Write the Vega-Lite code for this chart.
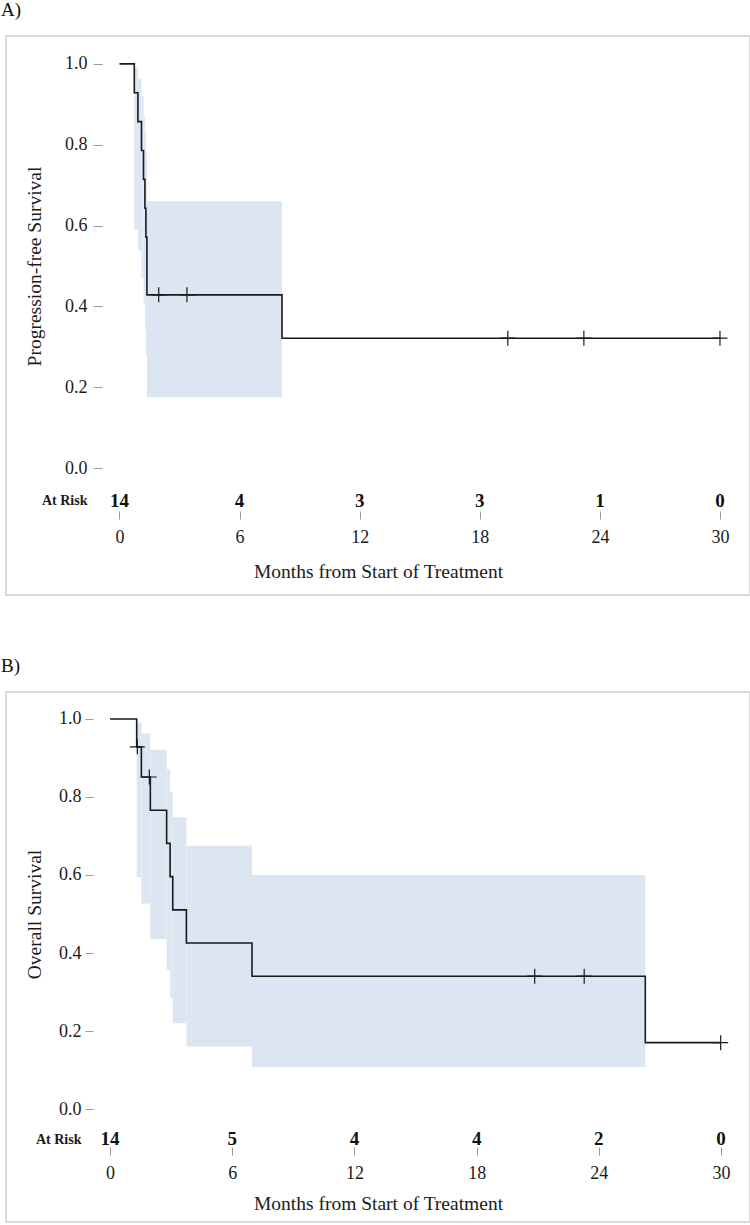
{
  "$schema": "https://vega.github.io/schema/vega-lite/v6.json",
  "padding": {"left": 0, "top": 0, "right": 0, "bottom": 0},
  "background": "white",
  "bounds": "flush",
  "spacing": 97,
  "config": {
    "font": "Liberation Serif",
    "view": {"stroke": "#d9d9d9", "strokeWidth": 2},
    "axis": {
      "domain": false, "grid": false, "tickColor": "#9a9a9a", "tickWidth": 1,
      "labelColor": "#1a1a1a", "titleColor": "#1a1a1a",
      "labelFont": "Liberation Serif", "titleFont": "Liberation Serif",
      "titleFontWeight": "normal", "labelFontSize": 18, "titleFontSize": 19.5
    },
    "title": {"font": "Liberation Serif", "fontSize": 19, "fontWeight": "normal", "anchor": "start", "frame": "group", "color": "#111111"}
  },
  "datasets": {
    "pfs_curve": [
      {"t": 0, "s": 1.0}, {"t": 0.74, "s": 0.9286}, {"t": 0.92, "s": 0.8571}, {"t": 1.1, "s": 0.7857},
      {"t": 1.2, "s": 0.7143}, {"t": 1.27, "s": 0.6429}, {"t": 1.32, "s": 0.5714}, {"t": 1.37, "s": 0.4286},
      {"t": 8.12, "s": 0.3214}, {"t": 30.0, "s": 0.3214}
    ],
    "pfs_band": [
      {"t0": 0.74, "t1": 0.92, "lo": 0.59, "hi": 0.99},
      {"t0": 0.92, "t1": 1.1, "lo": 0.538, "hi": 0.962},
      {"t0": 1.1, "t1": 1.2, "lo": 0.47, "hi": 0.92},
      {"t0": 1.2, "t1": 1.27, "lo": 0.404, "hi": 0.87},
      {"t0": 1.27, "t1": 1.32, "lo": 0.342, "hi": 0.832},
      {"t0": 1.32, "t1": 1.37, "lo": 0.28, "hi": 0.78},
      {"t0": 1.37, "t1": 8.12, "lo": 0.175, "hi": 0.66}
    ],
    "pfs_censor": [
      {"t": 1.96, "s": 0.4286}, {"t": 3.37, "s": 0.4286}, {"t": 19.4, "s": 0.3214},
      {"t": 23.2, "s": 0.3214}, {"t": 30.0, "s": 0.3214}
    ],
    "pfs_risk": [
      {"t": 0, "n": 14}, {"t": 6, "n": 4}, {"t": 12, "n": 3}, {"t": 18, "n": 3}, {"t": 24, "n": 1}, {"t": 30, "n": 0}
    ],
    "os_curve": [
      {"t": 0, "s": 1.0}, {"t": 1.31, "s": 0.9286}, {"t": 1.54, "s": 0.8512}, {"t": 1.98, "s": 0.7661},
      {"t": 2.78, "s": 0.681}, {"t": 2.95, "s": 0.5958}, {"t": 3.08, "s": 0.5107}, {"t": 3.75, "s": 0.4256},
      {"t": 6.97, "s": 0.3405}, {"t": 26.28, "s": 0.1702}, {"t": 29.98, "s": 0.1702}
    ],
    "os_band": [
      {"t0": 1.31, "t1": 1.54, "lo": 0.594, "hi": 0.991},
      {"t0": 1.54, "t1": 1.98, "lo": 0.527, "hi": 0.963},
      {"t0": 1.98, "t1": 2.78, "lo": 0.436, "hi": 0.921},
      {"t0": 2.78, "t1": 2.95, "lo": 0.356, "hi": 0.871},
      {"t0": 2.95, "t1": 3.08, "lo": 0.284, "hi": 0.812},
      {"t0": 3.08, "t1": 3.75, "lo": 0.22, "hi": 0.748},
      {"t0": 3.75, "t1": 6.97, "lo": 0.16, "hi": 0.675},
      {"t0": 6.97, "t1": 26.28, "lo": 0.108, "hi": 0.6}
    ],
    "os_censor": [
      {"t": 1.34, "s": 0.9286}, {"t": 1.93, "s": 0.8512}, {"t": 20.85, "s": 0.3405},
      {"t": 23.28, "s": 0.3405}, {"t": 29.98, "s": 0.1702}
    ],
    "os_risk": [
      {"t": 0, "n": 14}, {"t": 6, "n": 5}, {"t": 12, "n": 4}, {"t": 18, "n": 4}, {"t": 24, "n": 2}, {"t": 30, "n": 0}
    ]
  },
  "vconcat": [
    {
      "width": 744,
      "height": 559,
      "title": {"text": "A)", "dx": -5, "offset": 16},
      "layer": [
        {
          "data": {"name": "pfs_band"},
          "mark": {"type": "rect", "color": "#dce6f2"},
          "encoding": {
            "x": {"field": "t0", "type": "quantitative",
              "scale": {"domain": [-5.67, 31.5], "nice": false, "zero": false},
              "axis": {"values": [0, 6, 12, 18, 24, 30], "offset": -84, "tickSize": 8,
                "labelBaseline": "middle", "labelPadding": 18,
                "title": "Months from Start of Treatment", "titleY": 60, "titleBaseline": "middle"}},
            "x2": {"field": "t1"},
            "y": {"field": "lo", "type": "quantitative",
              "scale": {"domain": [-0.314, 1.069], "nice": false, "zero": false},
              "axis": {"values": [-0.0814, 0, 0.2, 0.4, 0.6, 0.8, 1.0],
                "labelExpr": "datum.value < -0.01 ? 'At Risk' : format(datum.value, '.1f')",
                "offset": -96, "tickSize": 9, "labelPadding": 6,
                "tickOpacity": {"condition": {"test": "datum.value < -0.01", "value": 0}, "value": 1},
                "labelFontSize": {"condition": {"test": "datum.value < -0.01", "value": 14}, "value": 18},
                "labelFontWeight": {"condition": {"test": "datum.value < -0.01", "value": "bold"}, "value": "normal"},
                "title": "Progression-free Survival", "titleX": -68, "titleY": 230, "titleBaseline": "middle"}},
            "y2": {"field": "hi"}
          }
        },
        {
          "mark": {"type": "rect", "fill": null, "filled": false, "stroke": "#8f8f8f", "strokeWidth": 1.5},
          "encoding": {
            "x": {"datum": -0.874, "type": "quantitative"},
            "x2": {"datum": 30.87},
            "y": {"datum": -0.106, "type": "quantitative"},
            "y2": {"datum": 1.037}
          }
        },
        {
          "data": {"name": "pfs_curve"},
          "mark": {"type": "line", "interpolate": "step-after", "color": "#1a1a1a", "strokeWidth": 1.6},
          "encoding": {
            "x": {"field": "t", "type": "quantitative"},
            "y": {"field": "s", "type": "quantitative"}
          }
        },
        {
          "data": {"name": "pfs_censor"},
          "mark": {"type": "point", "shape": "M-1,0L1,0M0,-1L0,1", "size": 225, "filled": false, "color": "#1a1a1a", "strokeWidth": 1.2, "opacity": 1},
          "encoding": {
            "x": {"field": "t", "type": "quantitative"},
            "y": {"field": "s", "type": "quantitative"}
          }
        },
        {
          "data": {"name": "pfs_risk"},
          "mark": {"type": "text", "fontSize": 19, "fontWeight": "bold", "align": "center", "baseline": "middle", "color": "#111111"},
          "encoding": {
            "x": {"field": "t", "type": "quantitative"},
            "y": {"datum": -0.0814, "type": "quantitative"},
            "text": {"field": "n", "type": "nominal"}
          }
        },
        {
          "mark": {"type": "text", "fontSize": 16, "align": "left", "baseline": "middle", "color": "#111111"},
          "encoding": {
            "x": {"datum": 10.0, "type": "quantitative"},
            "y": {"datum": 0.896, "type": "quantitative"},
            "text": {"value": "Progression-free (N=14, Events=9):"}
          }
        },
        {
          "mark": {"type": "text", "fontSize": 16, "align": "left", "baseline": "middle", "color": "#111111"},
          "encoding": {
            "x": {"datum": 10.66, "type": "quantitative"},
            "y": {"datum": 0.847, "type": "quantitative"},
            "text": {"value": "Median PFS Survival (95% CI) = 1.3 (1.1, NR) mos"}
          }
        }
      ]
    },
    {
      "width": 744,
      "height": 530,
      "title": {"text": "B)", "dx": -5, "offset": 16},
      "layer": [
        {
          "data": {"name": "os_band"},
          "mark": {"type": "rect", "color": "#dce6f2"},
          "encoding": {
            "x": {"field": "t0", "type": "quantitative",
              "scale": {"domain": [-5.106, 31.42], "nice": false, "zero": false},
              "axis": {"values": [0, 6, 12, 18, 24, 30], "offset": -75, "tickSize": 8,
                "labelBaseline": "middle", "labelPadding": 18,
                "title": "Months from Start of Treatment", "titleY": 56, "titleBaseline": "middle"}},
            "x2": {"field": "t1"},
            "y": {"field": "lo", "type": "quantitative",
              "scale": {"domain": [-0.2897, 1.0692], "nice": false, "zero": false},
              "axis": {"values": [-0.0769, 0, 0.2, 0.4, 0.6, 0.8, 1.0],
                "labelExpr": "datum.value < -0.01 ? 'At Risk' : format(datum.value, '.1f')",
                "offset": -87, "tickSize": 8, "labelPadding": 4,
                "tickOpacity": {"condition": {"test": "datum.value < -0.01", "value": 0}, "value": 1},
                "labelFontSize": {"condition": {"test": "datum.value < -0.01", "value": 14}, "value": 18},
                "labelFontWeight": {"condition": {"test": "datum.value < -0.01", "value": "bold"}, "value": "normal"},
                "title": "Overall Survival", "titleX": -59, "titleY": 222, "titleBaseline": "middle"}},
            "y2": {"field": "hi"}
          }
        },
        {
          "mark": {"type": "rect", "fill": null, "filled": false, "stroke": "#8f8f8f", "strokeWidth": 1.5},
          "encoding": {
            "x": {"datum": -0.8346, "type": "quantitative"},
            "x2": {"datum": 30.83},
            "y": {"datum": -0.0974, "type": "quantitative"},
            "y2": {"datum": 1.0385}
          }
        },
        {
          "data": {"name": "os_curve"},
          "mark": {"type": "line", "interpolate": "step-after", "color": "#1a1a1a", "strokeWidth": 1.6},
          "encoding": {
            "x": {"field": "t", "type": "quantitative"},
            "y": {"field": "s", "type": "quantitative"}
          }
        },
        {
          "data": {"name": "os_censor"},
          "mark": {"type": "point", "shape": "M-1,0L1,0M0,-1L0,1", "size": 225, "filled": false, "color": "#1a1a1a", "strokeWidth": 1.2, "opacity": 1},
          "encoding": {
            "x": {"field": "t", "type": "quantitative"},
            "y": {"field": "s", "type": "quantitative"}
          }
        },
        {
          "data": {"name": "os_risk"},
          "mark": {"type": "text", "fontSize": 19, "fontWeight": "bold", "align": "center", "baseline": "middle", "color": "#111111"},
          "encoding": {
            "x": {"field": "t", "type": "quantitative"},
            "y": {"datum": -0.0769, "type": "quantitative"},
            "text": {"field": "n", "type": "nominal"}
          }
        },
        {
          "mark": {"type": "text", "fontSize": 15, "align": "left", "baseline": "middle", "color": "#111111"},
          "encoding": {
            "x": {"datum": 10.0, "type": "quantitative"},
            "y": {"datum": 0.903, "type": "quantitative"},
            "text": {"value": "Overall (N=14, Events=9):"}
          }
        },
        {
          "mark": {"type": "text", "fontSize": 15, "align": "left", "baseline": "middle", "color": "#111111"},
          "encoding": {
            "x": {"datum": 10.6, "type": "quantitative"},
            "y": {"datum": 0.851, "type": "quantitative"},
            "text": {"value": "Median OS Survival (95% CI) = 3.7 (2.0, 26.2) mos"}
          }
        }
      ]
    }
  ]
}
